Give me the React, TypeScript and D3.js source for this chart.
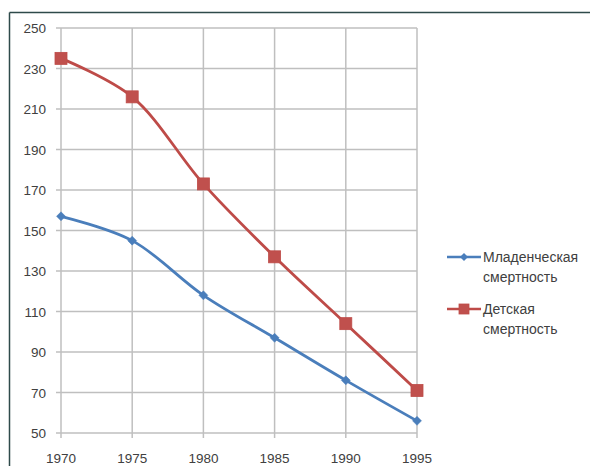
import React from "react";
import * as d3 from "d3";

const years = [1970, 1975, 1980, 1985, 1990, 1995];
const infantMortality = [157, 145, 118, 97, 76, 56];
const childMortality = [235, 216, 173, 137, 104, 71];
const yTicks = [50, 70, 90, 110, 130, 150, 170, 190, 210, 230, 250];
const seriesNames = [["Младенческая", "смертность"], ["Детская", "смертность"]];

const W = 590;
const H = 466;
const font = "'Liberation Sans', Arial, sans-serif";

export default function App() {
  const x = d3.scaleLinear().domain([1970, 1995]).range([61, 417]);
  const y = d3.scaleLinear().domain([50, 250]).range([433, 28]);
  const line = d3
    .line<[number, number]>()
    .x((d) => x(d[0]))
    .y((d) => y(d[1]))
    .curve(d3.curveCatmullRom.alpha(0.5));

  const blueData: [number, number][] = years.map((yr, i) => [yr, infantMortality[i]]);
  const redData: [number, number][] = years.map((yr, i) => [yr, childMortality[i]]);
  const blue = "#4A7EBB";
  const red = "#BE4B48";
  const grid = "#BFBFBF";
  const textColor = "#404040";

  const diamond = (cx: number, cy: number, r: number) =>
    `M${cx},${cy - r}L${cx + r},${cy}L${cx},${cy + r}L${cx - r},${cy}Z`;

  return (
    <svg
      width={W}
      height={H}
      style={{ position: "absolute", left: 0, top: 0, background: "#fff" }}
    >
      <rect x={0} y={0} width={W} height={H} fill="#fff" />
      {/* chart border */}
      <line x1={9.5} y1={12.5} x2={W} y2={12.5} stroke="#2E4A4A" strokeWidth={1.5} />
      <line x1={9.5} y1={12.5} x2={9.5} y2={H} stroke="#2E4A4A" strokeWidth={1.5} />

      {/* horizontal gridlines */}
      {yTicks.map((t) => (
        <g key={"h" + t}>
          <line x1={56} x2={417} y1={y(t)} y2={y(t)} stroke={grid} strokeWidth={1.5} />
          <text
            x={46}
            y={y(t) + 5}
            textAnchor="end"
            fontFamily={font}
            fontSize={13.5}
            fill={textColor}
          >
            {t}
          </text>
        </g>
      ))}
      {/* vertical gridlines */}
      {years.map((yr) => (
        <g key={"v" + yr}>
          <line x1={x(yr)} x2={x(yr)} y1={y(250)} y2={y(50) + 5} stroke={grid} strokeWidth={1.5} />
          <text
            x={x(yr)}
            y={463}
            textAnchor="middle"
            fontFamily={font}
            fontSize={13.5}
            fill={textColor}
          >
            {yr}
          </text>
        </g>
      ))}

      {/* series */}
      <path d={line(blueData) || ""} fill="none" stroke={blue} strokeWidth={2.8} />
      <path d={line(redData) || ""} fill="none" stroke={red} strokeWidth={2.8} />
      {blueData.map((d, i) => (
        <path key={"b" + i} d={diamond(x(d[0]), y(d[1]), 4.5)} fill={blue} stroke={blue} strokeWidth={0.5} />
      ))}
      {redData.map((d, i) => (
        <rect
          key={"r" + i}
          x={x(d[0]) - 6}
          y={y(d[1]) - 6}
          width={12}
          height={12}
          fill="#C0504D"
          stroke={red}
          strokeWidth={0.8}
        />
      ))}

      {/* legend */}
      <g>
        <line x1={447} x2={481} y1={257} y2={257} stroke={blue} strokeWidth={2.5} />
        <path d={diamond(464, 257, 4)} fill={blue} />
        <text x={483} y={262} fontFamily={font} fontSize={14} fill={textColor}>
          {seriesNames[0][0]}
        </text>
        <text x={483} y={282} fontFamily={font} fontSize={14} fill={textColor}>
          {seriesNames[0][1]}
        </text>
        <line x1={447} x2={481} y1={309} y2={309} stroke={red} strokeWidth={2.5} />
        <rect x={459} y={304} width={10} height={10} fill="#C0504D" stroke={red} strokeWidth={0.8} />
        <text x={483} y={314} fontFamily={font} fontSize={14} fill={textColor}>
          {seriesNames[1][0]}
        </text>
        <text x={483} y={334} fontFamily={font} fontSize={14} fill={textColor}>
          {seriesNames[1][1]}
        </text>
      </g>
    </svg>
  );
}
